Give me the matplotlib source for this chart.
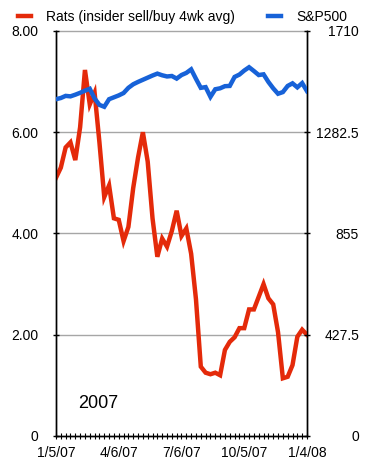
import numpy as np
import matplotlib.pyplot as plt

plt.rcParams['font.family'] = ['Liberation Sans', 'DejaVu Sans']

# weekly data, 1/5/07 .. 1/4/08 (53 weeks)
weeks = np.arange(53)

rats = [5.1, 5.3, 5.7, 5.8, 5.45, 6.1, 7.23, 6.55, 6.78, 5.8,
        4.72, 4.95, 4.3, 4.27, 3.85, 4.13, 4.9, 5.5, 6.0, 5.42,
        4.3, 3.54, 3.9, 3.74, 4.05, 4.45, 3.95, 4.1, 3.6, 2.7,
        1.37, 1.25, 1.22, 1.25, 1.2, 1.7, 1.86, 1.95, 2.13, 2.13,
        2.5, 2.5, 2.75, 3.0, 2.72, 2.6, 2.05, 1.14, 1.17, 1.4,
        1.96, 2.1, 2.0]

sp500 = [1422, 1427, 1436, 1434, 1441, 1449, 1458, 1466, 1425, 1398,
         1390, 1422, 1430, 1438, 1448, 1470, 1485, 1495, 1504, 1513,
         1522, 1530, 1523, 1518, 1520, 1509, 1524, 1533, 1548, 1508,
         1470, 1473, 1432, 1464, 1468, 1477, 1478, 1516, 1526, 1543,
         1557, 1541, 1524, 1527, 1495, 1468, 1445, 1452, 1478, 1489,
         1472, 1490, 1456]

date_pos = [0, 13, 26, 39, 52]
date_labels = ['1/5/07', '4/6/07', '7/6/07', '10/5/07', '1/4/08']

left_ticks = [0, 2, 4, 6, 8]
left_labels = ['0', '2.00', '4.00', '6.00', '8.00']
right_ticks = [0, 427.5, 855, 1282.5, 1710]
right_labels = ['0', '427.5', '855', '1282.5', '1710']

red = '#e42a0a'
blue = '#1762d8'

fig = plt.figure(figsize=(3.77, 4.66), dpi=100)
ax = fig.add_axes([0.1485, 0.0644, 0.6658, 0.8691])
ax2 = ax.twinx()

# gridlines (the one at 8 is the top edge)
for v in left_ticks[1:]:
    ax.axhline(v, color='#a6a6a6', lw=1, zorder=0, clip_on=False)

l1, = ax.plot(weeks, rats, color=red, lw=3.2, solid_joinstyle='miter', zorder=3)
l2, = ax2.plot(weeks, sp500, color=blue, lw=3.2, solid_joinstyle='miter', zorder=3)

ax.set_xlim(0, 52)
ax.set_ylim(0, 8)
ax2.set_ylim(0, 1710)

ax.set_yticks(left_ticks)
ax.set_yticklabels(left_labels)
ax2.set_yticks(right_ticks)
ax2.set_yticklabels(right_labels, ha='right')

ax.set_xticks(date_pos)
ax.set_xticklabels(date_labels)
ax.set_xticks(weeks, minor=True)

for a in (ax, ax2):
    a.spines['top'].set_visible(False)
    for s in ('left', 'right', 'bottom'):
        a.spines[s].set_linewidth(1)
        a.spines[s].set_color('black')

ax.tick_params(axis='y', direction='inout', length=5, width=1, labelsize=10, pad=10)
ax2.tick_params(axis='y', direction='inout', length=5, width=1, labelsize=10, pad=35)
ax.tick_params(axis='x', which='both', direction='inout', length=5, width=0.8, labelsize=10, pad=5)

ax.text(4.5, 0.65, '2007', fontsize=13, va='center', ha='left')

fig.legend([l1, l2], ['Rats (insider sell/buy 4wk avg)', 'S&P500'],
           loc='upper left', bbox_to_anchor=(0.015, 1.005), ncol=2, frameon=False,
           fontsize=10, handlelength=0.9, columnspacing=2.4, handletextpad=1.1)

fig.savefig('out.png', dpi=100)
